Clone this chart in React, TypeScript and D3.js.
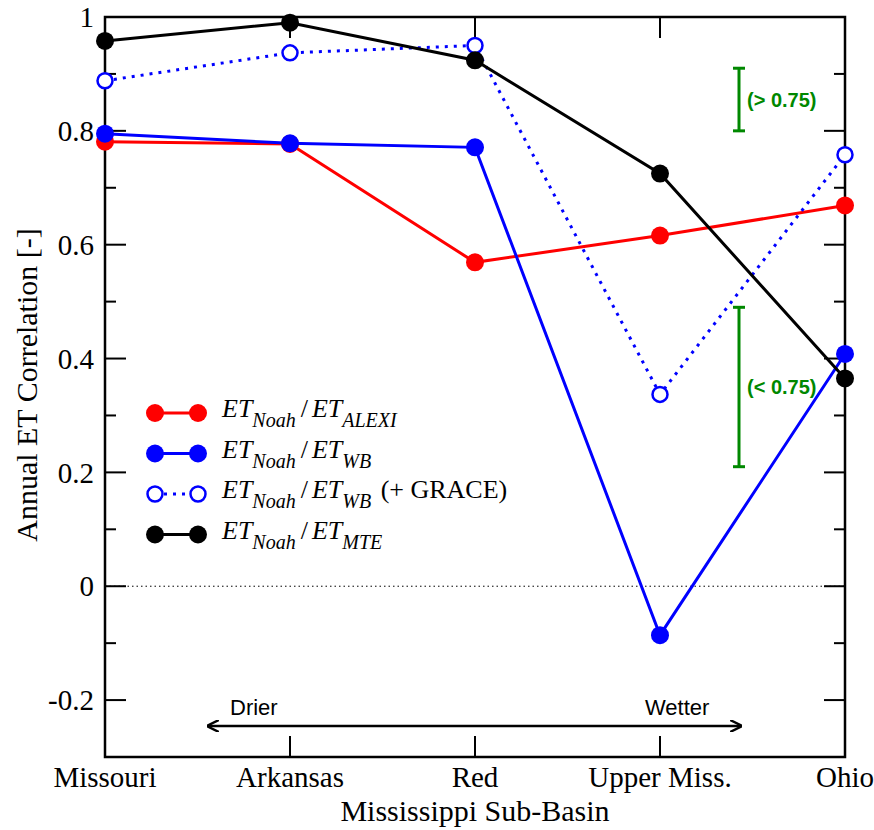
import { useEffect } from 'react';
import * as d3 from 'd3';

// Annual ET correlation per Mississippi sub-basin

const categories = ['Missouri', 'Arkansas', 'Red', 'Upper Miss.', 'Ohio'];
const alexi = [0.781, 0.777, 0.569, 0.616, 0.669];
const wb = [0.795, 0.778, 0.771, -0.086, 0.408];
const wbGrace = [0.888, 0.937, 0.950, 0.337, 0.758];
const mte = [0.958, 0.990, 0.924, 0.725, 0.365];

const majorTicks = [-0.2, 0, 0.2, 0.4, 0.6, 0.8, 1];
const minorTicks = [-0.3, -0.1, 0.1, 0.3, 0.5, 0.7, 0.9];

// green range markers (data units)
const highRange = [0.8, 0.91];
const lowRange = [0.21, 0.49];

const W = 874;
const H = 830;
const left = 105, right = 845, top = 17, bottom = 757;

const serif = '"Liberation Serif", "Times New Roman", serif';
const sans = '"Liberation Sans", Arial, sans-serif';

const x = d3.scalePoint<string>().domain(categories).range([left, right]);
const y = d3.scaleLinear().domain([-0.3, 1]).range([bottom, top]);

// plain hyphen for negatives, like the original
const fmt = (d: number) => (d === 0 ? '0' : d === 1 ? '1' : d.toFixed(1));

const series = [
    { name: 'ALEXI', values: alexi, color: '#ff0000', open: false, dotted: false },
    { name: 'WB', values: wb, color: '#0000ff', open: false, dotted: false },
    { name: 'WB', values: wbGrace, color: '#0000ff', open: true, dotted: true, extra: ' (+ GRACE)' },
    { name: 'MTE', values: mte, color: '#000000', open: false, dotted: false },
];

export default function App() {
    useEffect(() => {
        document.body.style.margin = '0';
    }, []);

    const line = d3.line<number>()
        .x((d, i) => x(categories[i]) as number)
        .y(d => y(d));

    const greenX = 739;

    return (
        <svg width={W} height={H} style={{ display: 'block', background: '#fff' }}>
            {/* zero line */}
            <line x1={left} x2={right} y1={y(0)} y2={y(0)} stroke="#000" strokeWidth={1} strokeDasharray="1.5 3" />

            {/* y ticks, both sides */}
            {majorTicks.map(t => (
                <g key={'M' + t}>
                    <line x1={left} x2={left + 21} y1={y(t)} y2={y(t)} stroke="#000" strokeWidth={2} />
                    <line x1={right} x2={right - 21} y1={y(t)} y2={y(t)} stroke="#000" strokeWidth={2} />
                    <text x={left - 11} y={y(t)} dy="0.35em" textAnchor="end" fontFamily={serif} fontSize={29}>{fmt(t)}</text>
                </g>
            ))}
            {minorTicks.map(t => (
                <g key={'m' + t}>
                    <line x1={left} x2={left + 11} y1={y(t)} y2={y(t)} stroke="#000" strokeWidth={2} />
                    <line x1={right} x2={right - 11} y1={y(t)} y2={y(t)} stroke="#000" strokeWidth={2} />
                </g>
            ))}

            {/* x ticks */}
            {categories.map(c => (
                <g key={c}>
                    <line x1={x(c)} x2={x(c)} y1={bottom} y2={bottom - 21} stroke="#000" strokeWidth={2} />
                    <line x1={x(c)} x2={x(c)} y1={top} y2={top + 21} stroke="#000" strokeWidth={2} />
                    <text x={x(c)} y={787} textAnchor="middle" fontFamily={serif} fontSize={29}>{c}</text>
                </g>
            ))}

            <rect x={left} y={top} width={right - left} height={bottom - top} fill="none" stroke="#000" strokeWidth={2.5} />

            {/* axis titles */}
            <text x={475} y={821} textAnchor="middle" fontFamily={serif} fontSize={30}>Mississippi Sub-Basin</text>
            <text transform={`translate(37,385) rotate(-90)`} textAnchor="middle" fontFamily={serif} fontSize={30}>
                Annual ET Correlation [-]
            </text>

            {/* series */}
            {series.map((s, si) => (
                <g key={si}>
                    <path d={line(s.values) as string} fill="none" stroke={s.color}
                        strokeWidth={3} strokeDasharray={s.dotted ? '3 6' : undefined} />
                    {s.values.map((v, i) => (
                        <circle key={i} cx={x(categories[i])} cy={y(v)} r={s.open ? 7.5 : 9}
                            fill={s.open ? '#fff' : s.color} stroke={s.color} strokeWidth={s.open ? 2.5 : 0} />
                    ))}
                </g>
            ))}

            {/* green range bars */}
            {[highRange, lowRange].map((r, i) => (
                <g key={i} stroke="#008800" strokeWidth={3}>
                    <line x1={greenX} x2={greenX} y1={y(r[0])} y2={y(r[1])} />
                    <line x1={greenX - 6} x2={greenX + 6} y1={y(r[0])} y2={y(r[0])} />
                    <line x1={greenX - 6} x2={greenX + 6} y1={y(r[1])} y2={y(r[1])} />
                </g>
            ))}
            <text x={747} y={y((highRange[0] + highRange[1]) / 2)} dy="0.35em" fill="#008800" fontFamily={sans} fontWeight="bold" fontSize={20}>(&gt; 0.75)</text>
            <text x={747} y={y((lowRange[0] + lowRange[1]) / 2)} dy="0.35em" fill="#008800" fontFamily={sans} fontWeight="bold" fontSize={20}>(&lt; 0.75)</text>

            {/* drier / wetter arrow */}
            <defs>
                <marker id="ah" viewBox="0 0 10 10" refX="9" refY="5" markerWidth="12" markerHeight="12" markerUnits="userSpaceOnUse" orient="auto-start-reverse">
                    <path d="M0,0 L10,5 L0,10" fill="none" stroke="#000" strokeWidth={2} />
                </marker>
            </defs>
            <line x1={208} x2={741} y1={726} y2={726} stroke="#000" strokeWidth={2.5} markerStart="url(#ah)" markerEnd="url(#ah)" />
            <text x={230} y={715} fontFamily={sans} fontSize={22}>Drier</text>
            <text x={645} y={715} fontFamily={sans} fontSize={22}>Wetter</text>

            {/* legend */}
            {series.map((s, i) => {
                const ly = 413 + i * 40.5;
                return (
                    <g key={'lg' + i}>
                        <line x1={155} x2={198} y1={ly} y2={ly} stroke={s.color} strokeWidth={3} strokeDasharray={s.dotted ? '3 6' : undefined} />
                        {[155, 198].map(cx => (
                            <circle key={cx} cx={cx} cy={ly} r={s.open ? 7.5 : 9} fill={s.open ? '#fff' : s.color} stroke={s.color} strokeWidth={s.open ? 2.5 : 0} />
                        ))}
                        <text x={222} y={ly + 4} fontFamily={serif} fontSize={26}>
                            <tspan fontStyle="italic">ET</tspan>
                            <tspan fontStyle="italic" fontSize={20} dy={10}>Noah</tspan>
                            <tspan dy={-10} dx={5}>/</tspan>
                            <tspan fontStyle="italic" dx={4}>ET</tspan>
                            <tspan fontStyle="italic" fontSize={20} dy={10}>{s.name}</tspan>
                            {s.extra ? <tspan dy={-10} dx={3}>{s.extra}</tspan> : null}
                        </text>
                    </g>
                );
            })}
        </svg>
    );
}
